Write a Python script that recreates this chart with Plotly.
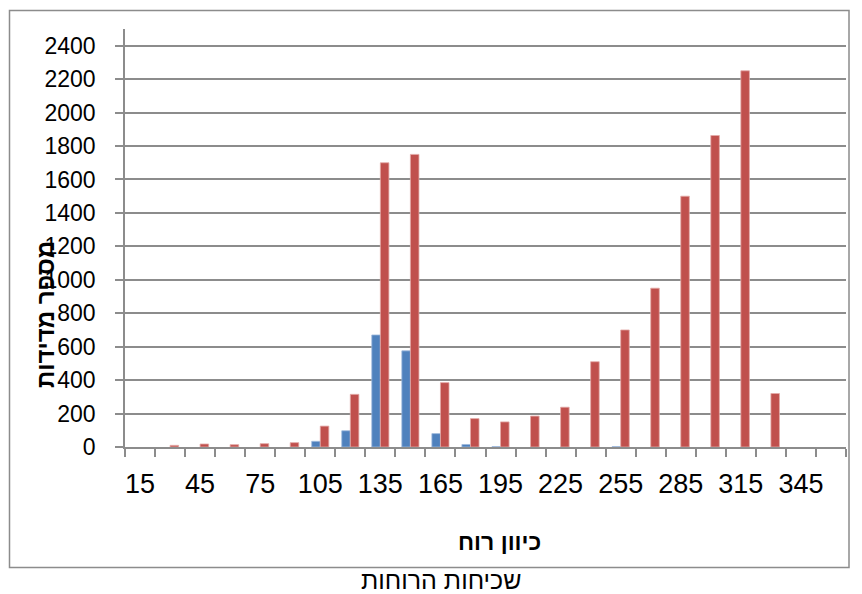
import plotly.graph_objects as go

# Wind direction sectors (degrees) and counts of measurements per sector
directions = [15, 30, 45, 60, 75, 90, 105, 120, 135, 150, 165, 180,
              195, 210, 225, 240, 255, 270, 285, 300, 315, 330, 345, 360]
series_a = [0, 0, 0, 0, 0, 0, 34, 97, 670, 575, 80, 15,
            2, 0, 0, 0, 2, 0, 0, 0, 0, 0, 0, 0]
series_b = [0, 10, 18, 14, 20, 26, 125, 315, 1700, 1750, 385, 170,
            150, 185, 238, 510, 700, 950, 1500, 1863, 2250, 320, 0, 0]
tick_labels = [15, 45, 75, 105, 135, 165, 195, 225, 255, 285, 315, 345]

FONT = "Liberation Sans, Arial, DejaVu Sans, sans-serif"
GRID = "#8c8c8c"


def edge_widths(values):
    # light outline only on bars that actually have height
    return [0.8 if v > 0 else 0 for v in values]


fig = go.Figure()
fig.add_trace(go.Bar(x=directions, y=series_a, name="A",
                     marker=dict(color="#4F81BD",
                                 line=dict(color="#9db8dc", width=edge_widths(series_a)))))
fig.add_trace(go.Bar(x=directions, y=series_b, name="B",
                     marker=dict(color="#C0504D",
                                 line=dict(color="#e3a9a7", width=edge_widths(series_b)))))

fig.update_layout(
    width=862, height=594,
    margin=dict(l=125, r=16, t=29, b=147),
    paper_bgcolor="white", plot_bgcolor="white",
    barmode="group", bargap=0.43, bargroupgap=0,
    showlegend=False,
    font=dict(family=FONT, color="black"),
)

fig.update_xaxes(
    range=[7.5, 367.5],
    tickmode="array", tickvals=tick_labels, ticktext=[str(t) for t in tick_labels],
    ticks="", tickfont=dict(size=27), ticklabelstandoff=12,
    showgrid=False, zeroline=False,
    showline=True, linecolor=GRID, linewidth=1.5,
    minor=dict(tick0=7.5, dtick=15, ticks="outside", ticklen=8,
               tickcolor=GRID, tickwidth=1.5, showgrid=False),
)

fig.update_yaxes(
    range=[0, 2500], dtick=200, tick0=0,
    ticks="outside", ticklen=8, tickcolor=GRID, tickwidth=1.5,
    tickfont=dict(size=23), ticklabelstandoff=15,
    showgrid=True, gridcolor=GRID, gridwidth=1.5,
    zeroline=False,
    showline=True, linecolor=GRID, linewidth=1.5,
)

# Axis titles and chart title
fig.add_annotation(text="<b>מספר מדידות</b>", xref="paper", yref="paper",
                   x=(45 - 125) / 721, y=(447 - 315) / 418, textangle=-90,
                   showarrow=False, font=dict(size=24, family=FONT),
                   xanchor="center", yanchor="middle")
fig.add_annotation(text="<b>כיוון רוח</b>", xref="paper", yref="paper",
                   x=(499 - 125) / 721, y=(447 - 542) / 418,
                   showarrow=False, font=dict(size=23, family=FONT),
                   xanchor="center", yanchor="middle")
fig.add_annotation(text="שכיחות הרוחות", xref="paper", yref="paper",
                   x=(441 - 125) / 721, y=(447 - 579.5) / 418,
                   showarrow=False, font=dict(size=25, family=FONT),
                   borderpad=0, xanchor="center", yanchor="middle")

# Chart-area border
fig.add_shape(type="rect", xref="paper", yref="paper",
              x0=(9.5 - 125) / 721, x1=(849 - 125) / 721,
              y0=(447 - 567.5) / 418, y1=(447 - 10.5) / 418,
              line=dict(color=GRID, width=1.5), fillcolor="rgba(0,0,0,0)")

fig.write_html("out.html")
